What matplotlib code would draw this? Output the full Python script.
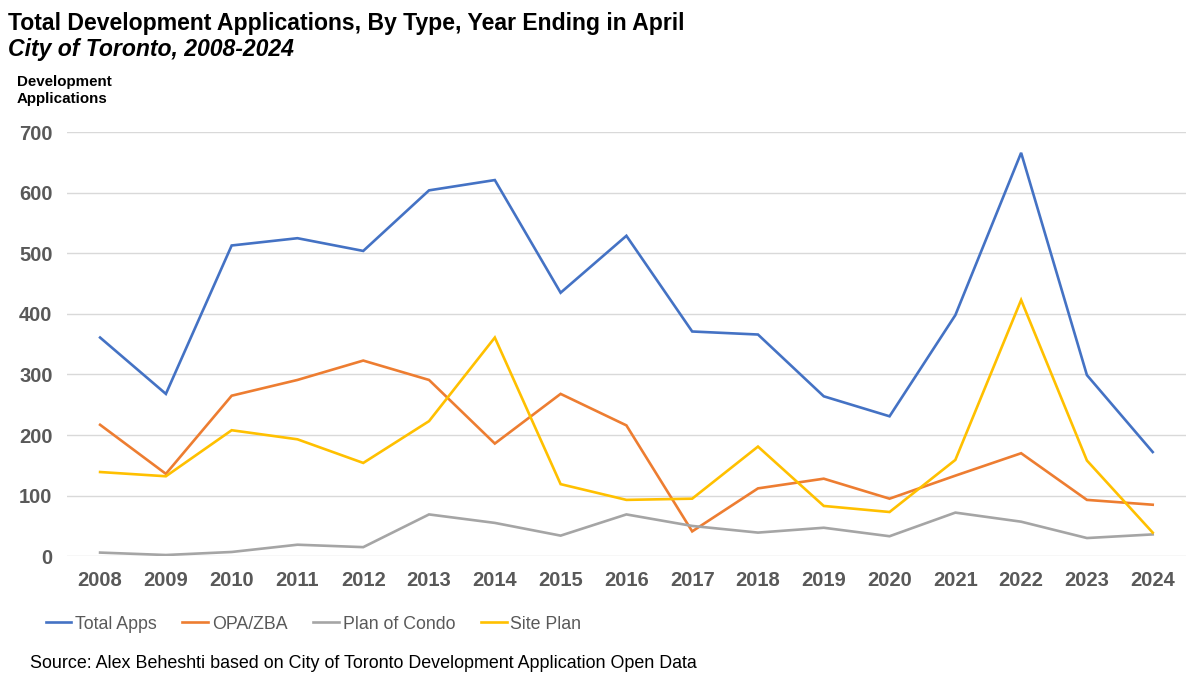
import matplotlib.pyplot as plt
import numpy as np

plt.rcParams['font.family'] = ['Liberation Sans', 'DejaVu Sans']

years = [str(y) for y in range(2008, 2025)]
total_apps = [361, 268, 513, 525, 504, 604, 621, 435, 529, 371, 366, 264, 231, 398, 666, 299, 172]
opa_zba = [217, 136, 265, 291, 323, 291, 186, 268, 216, 41, 112, 128, 95, 133, 170, 93, 85]
plan_of_condo = [6, 2, 7, 19, 15, 69, 55, 34, 69, 50, 39, 47, 33, 72, 57, 30, 36]
site_plan = [139, 132, 208, 193, 154, 223, 361, 119, 93, 95, 181, 83, 73, 159, 423, 158, 39]

series = [
    ("Total Apps", total_apps, "#4472C4"),
    ("OPA/ZBA", opa_zba, "#ED7D31"),
    ("Plan of Condo", plan_of_condo, "#A5A5A5"),
    ("Site Plan", site_plan, "#FFC000"),
]

fig = plt.figure(figsize=(12, 6.85), dpi=100)
ax = fig.add_axes([0.056, 0.188, 0.932, 0.619])

x = np.arange(len(years))
for name, vals, col in series:
    ax.plot(x, vals, color=col, lw=1.9, label=name, solid_joinstyle='miter', zorder=3)

ax.set_xlim(-0.5, len(years) - 0.5)
ax.set_ylim(0, 700)
ax.set_yticks(range(0, 701, 100))
ax.set_xticks(x)
ax.set_xticklabels(years)
for s in ax.spines.values():
    s.set_visible(False)
ax.grid(axis='y', color='#D9D9D9', lw=1)
ax.set_axisbelow(True)
ax.tick_params(length=0, labelsize=14.5, labelcolor='#595959')
ax.tick_params(axis='x', pad=11)
ax.tick_params(axis='y', pad=10.5)
for lab in ax.get_xticklabels() + ax.get_yticklabels():
    lab.set_fontweight('bold')

fig.text(0.007, 0.965, "Total Development Applications, By Type, Year Ending in April",
         fontsize=16.6, fontweight='bold', va='center', ha='left')
fig.text(0.007, 0.928, "City of Toronto, 2008-2024",
         fontsize=16.6, fontweight='bold', style='italic', va='center', ha='left')
fig.text(0.014, 0.868, "Development\nApplications", fontsize=10.9, fontweight='bold',
         va='center', ha='left', linespacing=1.2)

fig.legend(loc='center left', bbox_to_anchor=(0.038, 0.089), ncol=4, frameon=False,
           fontsize=12.8, labelcolor='#595959', handlelength=1.45, handletextpad=0.2,
           columnspacing=1.45, borderaxespad=0, borderpad=0)

fig.text(0.025, 0.032, "Source: Alex Beheshti based on City of Toronto Development Application Open Data",
         fontsize=12.85, va='center', ha='left')

fig.savefig("out.png", dpi=100)
